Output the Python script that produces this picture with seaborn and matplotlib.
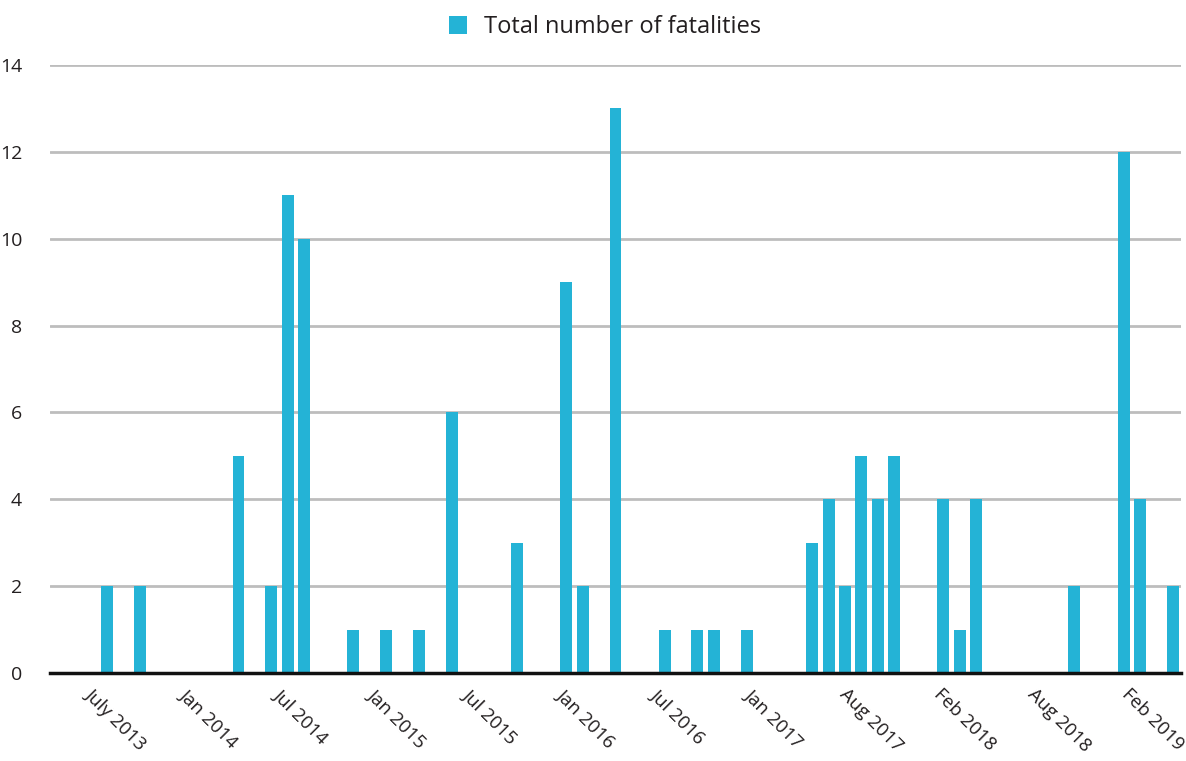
import pandas as pd
import matplotlib.pyplot as plt
import seaborn as sns

# one value per period slot on the axis (zeros where no bar is drawn)
fatalities = [0, 0, 0, 2, 0, 2, 0, 0, 0, 0, 0, 5, 0, 2, 11, 10, 0, 0, 1, 0,
              1, 0, 1, 0, 6, 0, 0, 0, 3, 0, 0, 9, 2, 0, 13, 0, 0, 1, 0, 1,
              1, 0, 1, 0, 0, 0, 3, 4, 2, 5, 4, 5, 0, 0, 4, 1, 4, 0, 0, 0,
              0, 0, 2, 0, 0, 12, 4, 0, 2]
periods = [f"P{i:02d}" for i in range(len(fatalities))]
tick_labels = ["July 2013", "Jan 2014", "Jul 2014", "Jan 2015", "Jul 2015",
               "Jan 2016", "Jul 2016", "Jan 2017", "Aug 2017", "Feb 2018",
               "Aug 2018", "Feb 2019"]
series_name = "Total number of fatalities"

df = pd.DataFrame({"period": periods, "value": fatalities})

sns.set_style("white")
plt.rcParams["font.family"] = ["Open Sans", "DejaVu Sans"]

fig = plt.figure(figsize=(11.86, 7.61), dpi=100)
ax = fig.add_axes([50 / 1186, 88 / 761, 1131 / 1186, 608 / 761])

sns.barplot(data=df, x="period", y="value", color="#24b3d6", saturation=1,
            width=0.73, linewidth=0, ax=ax, label=series_name, zorder=3)

ax.set_ylim(0, 14)
ax.set_xlim(-0.5, len(periods) - 0.5)
ax.set_yticks(range(0, 15, 2))
ax.yaxis.grid(True, color="#bdbdbd", lw=2, zorder=0)
ax.set_axisbelow(True)
for s in ["top", "right", "left"]:
    ax.spines[s].set_visible(False)
ax.spines["bottom"].set_color("#111111")
ax.spines["bottom"].set_linewidth(2.5)
ax.spines["bottom"].set_zorder(5)

# labels spread evenly along the axis
step = len(periods) / len(tick_labels)
ax.set_xticks([2.2 + k * step for k in range(len(tick_labels))])
ax.set_xticklabels(tick_labels, rotation=-45, ha="left", va="top",
                   rotation_mode="anchor", fontsize=13.5, color="#231f20")
ax.tick_params(axis="x", length=0, pad=9)
ax.tick_params(axis="y", length=0, pad=20, labelsize=14, labelcolor="#231f20")
ax.set_xlabel("")
ax.set_ylabel("")

if ax.legend_:
    ax.legend_.remove()
handles, labels = ax.get_legend_handles_labels()
fig.legend(handles, labels, loc="upper center", bbox_to_anchor=(0.51, 1.008),
           frameon=False, fontsize=17, handlelength=0.8, handleheight=0.8,
           handletextpad=0.7, labelcolor="#231f20")

fig.savefig("out.png", dpi=100)
plt.close(fig)
